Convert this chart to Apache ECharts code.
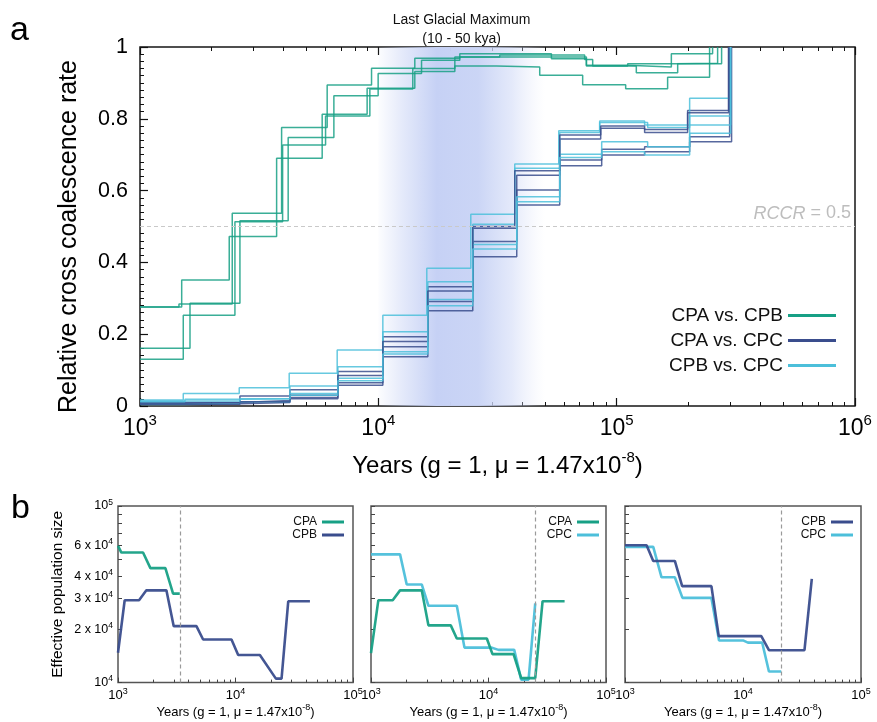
<!DOCTYPE html>
<html>
<head>
<meta charset="utf-8">
<script src="https://cdn.jsdelivr.net/npm/echarts@6/dist/echarts.min.js"></script>
<style>
  html, body { margin: 0; padding: 0; background: #fff; }
  #chart { width: 877px; height: 722px; }
</style>
</head>
<body>
<div id="chart"></div>
<script>
// ---------- Panel a: relative cross coalescence rate (years, value) ----------
const rccrCpaCpb1 = [[1000,0.276],[1496,0.351],[2368,0.472],[3743,0.690],[5813,0.813],[8975,0.885],[14224,0.932],[20940,0.947],[31300,0.944],[47550,0.921],[72000,0.895],[109100,0.884],[163600,0.916],[245400,1]];
const rccrCpaCpb2 = [[1000,0.276],[1457,0.284],[2438,0.537],[3928,0.776],[6100,0.894],[9365,0.941],[14224,0.969],[21970,0.981],[53230,0.967],[74640,0.949],[111200,0.944],[169600,0.981],[252600,1]];
const rccrCpaCpb3 = [[1000,0.130],[1519,0.253],[2502,0.513],[3966,0.727],[6006,0.808],[9213,0.883],[13950,0.940],[20940,0.972],[32310,0.978],[73410,0.965],[79320,0.947],[111200,0.953],[175100,0.955],[265200,1]];
const rccrCpaCpb4 = [[1000,0.161],[1621,0.286],[2626,0.516],[4185,0.748],[6508,0.864],[9982,0.926],[15180,0.963],[21970,0.972],[49900,0.972],[74640,0.947],[120900,0.928],[180300,0.953],[275600,1]];

const rccrCpaCpc1 = [[1000,0.008],[1519,0.010],[2626,0.028],[4256,0.045],[6765,0.096],[10445,0.193],[16130,0.332],[24900,0.495],[38080,0.643],[57680,0.744],[85700,0.774],[131000,0.762],[198500,0.823],[294900,1]];
const rccrCpaCpc2 = [[1000,0.010],[2626,0.015],[4256,0.024],[6765,0.065],[10445,0.165],[16130,0.291],[24900,0.458],[38080,0.602],[57680,0.685],[86530,0.715],[131000,0.722],[202400,0.750],[297800,1]];
const rccrCpaCpc3 = [[1000,0.006],[2626,0.010],[4256,0.020],[6765,0.058],[10445,0.137],[16130,0.265],[24900,0.416],[38080,0.560],[57680,0.669],[86530,0.699],[131000,0.708],[202400,0.736],[303500,1]];
const rccrCpaCpc4 = [[1000,0.005],[2626,0.012],[4256,0.030],[6765,0.085],[10445,0.180],[16130,0.320],[24900,0.500],[37350,0.655],[57680,0.755],[85700,0.780],[131000,0.770],[198500,0.817],[294900,1]];

const rccrCpbCpc1 = [[1000,0.017],[1519,0.035],[2608,0.051],[4227,0.091],[6720,0.156],[10445,0.253],[15970,0.384],[24430,0.534],[37350,0.674],[57130,0.767],[84870,0.794],[131000,0.783],[202400,0.857],[297800,1]];
const rccrCpbCpc2 = [[1000,0.012],[1544,0.019],[2626,0.020],[4256,0.056],[6765,0.109],[10445,0.207],[16130,0.346],[24900,0.506],[37350,0.662],[57680,0.762],[84870,0.790],[134900,0.776],[202400,0.808],[300600,1]];
const rccrCpbCpc3 = [[1000,0.004],[1544,0.006],[2626,0.012],[4256,0.035],[6765,0.077],[10445,0.151],[16130,0.297],[24900,0.450],[38080,0.583],[57680,0.701],[86530,0.736],[134900,0.722],[202400,0.783],[300600,1]];
const rccrCpbCpc4 = [[1000,0.014],[2626,0.020],[4256,0.030],[6765,0.070],[10445,0.145],[16130,0.279],[24900,0.437],[38080,0.569],[57680,0.692],[86530,0.708],[131000,0.699],[202400,0.760],[300600,1]];

const lgmRange = [10000, 50000];
const rccrThreshold = 0.5;

// ---------- Panel b: effective population size (years, Ne) ----------
const neCpaB1 = [[1000,59500],[1068,54500],[1633,54500],[1887,44500],[2531,44500],[2943,31900],[3354,31900]];
const neCpbB1 = [[1000,14760],[1140,29250],[1510,29250],[1744,33300],[2582,33300],[2980,20870],[4651,20870],[5301,17550],[9246,17550],[10537,14320],[16120,14320],[22070,10530],[24660,10530],[28110,28870],[43000,28870]];
const neCpaB2 = [[1000,14680],[1155,29290],[1530,29290],[1767,33290],[2703,33290],[3081,21090],[4775,21090],[5373,17780],[9679,17780],[10810,14490],[16330,14490],[18970,10600],[24990,10600],[28860,28910],[44430,28910]];
const neCpcB2 = [[1000,53210],[1767,53210],[2014,35940],[2703,35940],[3081,27240],[5373,27240],[6245,15780],[10540,15780],[12160,15320],[16550,15320],[18970,10390],[21930,10390],[24990,28060]];
const neCpbB3 = [[1000,59950],[1524,59950],[1735,48850],[2645,48850],[3051,35180],[5399,35180],[6228,18320],[14290,18320],[16590,15250],[33190,15250],[38290,38650]];
const neCpcB3 = [[1000,58680],[1735,58680],[2041,39470],[2645,39470],[3069,30170],[5399,30170],[6266,17330],[10000,17330],[11020,16830],[14550,16830],[16590,11560],[21090,11560]];
const splitTimes = [3357, 25100, 21100];

// ---------- Tick positions ----------
const minorYearTicksA = [2000,3000,4000,5000,6000,7000,8000,9000,20000,30000,40000,50000,60000,70000,80000,90000,200000,300000,400000,500000,600000,700000,800000,900000];
const majorYearTicksA = [1000, 10000, 100000, 1000000];
const minorYearTicksB = [2000,3000,4000,5000,6000,7000,8000,9000,20000,30000,40000,50000,60000,70000,80000,90000];
const neTicks = [10000,20000,30000,40000,50000,60000,70000,80000,90000,100000];
const neLabels = [10000,20000,30000,40000,60000,100000];

const FONT = 'Liberation Sans, Arial, Helvetica, sans-serif';
const GREEN = '#17a085';
const NAVY = '#3a4d8d';
const SKY = '#4cbfda';

const chart = echarts.init(document.getElementById('chart'), null, { renderer: 'canvas' });

function powLabel(v) {
  return '{b|10}{s|' + Math.round(Math.log10(v)) + '}';
}

function rccrLine(name, data, color) {
  return {
    type: 'line', name: name, data: data, step: 'end',
    xAxisIndex: 0, yAxisIndex: 0, symbol: 'none', silent: true,
    lineStyle: { color: color, width: 1.5, opacity: 0.85 },
    itemStyle: { color: color }, z: 3
  };
}

function neLine(name, data, color, xi, yi) {
  return {
    type: 'line', name: name, data: data, symbol: 'none', silent: true,
    xAxisIndex: xi, yAxisIndex: yi,
    lineStyle: { color: color, width: 2.6, opacity: 0.95 },
    itemStyle: { color: color }, z: 3
  };
}

// Plot boxes of the three small panels
const panelGrids = [
  { left: 118, right: 524, top: 506, bottom: 38 },
  { left: 371, right: 271, top: 506, bottom: 38 },
  { left: 625, right: 16, top: 506, bottom: 38 }
];

const xAxes = [
  // panel a: bottom major ticks with labels
  {
    type: 'log', gridIndex: 0, position: 'bottom', min: 1000, max: 1000000, logBase: 10,
    axisLine: { show: false },
    axisTick: { inside: true, length: 8, lineStyle: { color: '#111', width: 1.2 } },
    splitLine: { show: false },
    axisLabel: {
      margin: 7, formatter: powLabel,
      rich: {
        b: { fontSize: 23, lineHeight: 32, fontFamily: FONT, color: '#000' },
        s: { fontSize: 15, lineHeight: 15, verticalAlign: 'top', fontFamily: FONT, color: '#000' }
      }
    },
    name: 'Years (g = 1, \u03bc = 1.47x10{s|-8})',
    nameLocation: 'middle', nameGap: 44,
    nameTextStyle: {
      fontSize: 24, lineHeight: 32, fontFamily: FONT, color: '#000',
      rich: { s: { fontSize: 15, lineHeight: 15, verticalAlign: 'top', fontFamily: FONT, color: '#000' } }
    }
  },
  // panel a: bottom minor ticks
  {
    type: 'log', gridIndex: 0, position: 'bottom', min: 1000, max: 1000000,
    axisLine: { show: false }, splitLine: { show: false }, axisLabel: { show: false },
    axisTick: { inside: true, length: 4, customValues: minorYearTicksA, lineStyle: { color: '#111', width: 1 } }
  },
  // panel a: top major ticks
  {
    type: 'log', gridIndex: 0, position: 'top', min: 1000, max: 1000000,
    axisLine: { show: false }, splitLine: { show: false }, axisLabel: { show: false },
    axisTick: { inside: true, length: 8, customValues: majorYearTicksA, lineStyle: { color: '#111', width: 1.2 } }
  },
  // panel a: top minor ticks
  {
    type: 'log', gridIndex: 0, position: 'top', min: 1000, max: 1000000,
    axisLine: { show: false }, splitLine: { show: false }, axisLabel: { show: false },
    axisTick: { inside: true, length: 4, customValues: minorYearTicksA, lineStyle: { color: '#111', width: 1 } }
  }
];

const yAxes = [
  {
    type: 'value', gridIndex: 0, min: 0, max: 1, interval: 0.2, position: 'left',
    axisLine: { show: false }, splitLine: { show: false },
    axisTick: { inside: true, length: 8, lineStyle: { color: '#111', width: 1.2 } },
    minorTick: { show: true, splitNumber: 10, length: 4, lineStyle: { color: '#111', width: 1 } },
    axisLabel: { margin: 12, fontSize: 21.5, fontFamily: FONT, color: '#000' },
    name: 'Relative cross coalescence rate', nameLocation: 'middle', nameGap: 58, nameRotate: 90,
    nameTextStyle: { fontSize: 25, fontFamily: FONT, color: '#000', padding: [0, 20, 0, 0] }
  }
];

panelGrids.forEach(function (g, i) {
  const gi = i + 1;
  xAxes.push({
    type: 'log', gridIndex: gi, position: 'bottom', min: 1000, max: 100000,
    axisLine: { show: false }, splitLine: { show: false },
    axisTick: { inside: true, length: 5, lineStyle: { color: '#444', width: 1 } },
    axisLabel: {
      margin: 4, formatter: powLabel,
      rich: {
        b: { fontSize: 13, lineHeight: 18, fontFamily: FONT, color: '#000' },
        s: { fontSize: 9, lineHeight: 9, verticalAlign: 'top', fontFamily: FONT, color: '#000' }
      }
    },
    name: 'Years (g = 1, \u03bc = 1.47x10{s|-8})',
    nameLocation: 'middle', nameGap: 20,
    nameTextStyle: {
      fontSize: 13, lineHeight: 18, fontFamily: FONT, color: '#000',
      rich: { s: { fontSize: 9, lineHeight: 9, verticalAlign: 'top', fontFamily: FONT, color: '#000' } }
    }
  });
  xAxes.push({
    type: 'log', gridIndex: gi, position: 'bottom', min: 1000, max: 100000,
    axisLine: { show: false }, splitLine: { show: false }, axisLabel: { show: false },
    axisTick: { inside: true, length: 3, customValues: minorYearTicksB, lineStyle: { color: '#444', width: 1 } }
  });
  const y = {
    type: 'log', gridIndex: gi, position: 'left', min: 10000, max: 100000,
    axisLine: { show: false }, splitLine: { show: false },
    axisTick: { inside: true, length: 4, customValues: neTicks, lineStyle: { color: '#444', width: 1 } },
    axisLabel: { show: false }
  };
  if (i === 0) {
    y.axisLabel = {
      show: true, margin: 5, customValues: neLabels,
      formatter: function (v) {
        const e = Math.floor(Math.log10(v) + 1e-9);
        const m = Math.round(v / Math.pow(10, e));
        return m === 1 ? '{b|10}{s|' + e + '}' : '{b|' + m + ' x 10}{s|' + e + '}';
      },
      rich: {
        b: { fontSize: 12.5, lineHeight: 16, fontFamily: FONT, color: '#000' },
        s: { fontSize: 8.5, lineHeight: 8.5, verticalAlign: 'top', fontFamily: FONT, color: '#000' }
      }
    };
    y.name = 'Effective population size';
    y.nameLocation = 'middle';
    y.nameGap = 52;
    y.nameRotate = 90;
    y.nameTextStyle = { fontSize: 15.5, fontFamily: FONT, color: '#000' };
  }
  yAxes.push(y);
});

const lgmGradient = new echarts.graphic.LinearGradient(0, 0, 1, 0, [
  { offset: 0, color: 'rgba(200,211,245,0.05)' },
  { offset: 0.15, color: 'rgba(200,211,245,0.5)' },
  { offset: 0.35, color: 'rgba(198,209,245,1)' },
  { offset: 0.6, color: 'rgba(200,211,245,0.95)' },
  { offset: 0.8, color: 'rgba(205,215,246,0.55)' },
  { offset: 0.95, color: 'rgba(215,222,248,0.12)' },
  { offset: 1, color: 'rgba(220,226,249,0)' }
]);

const series = [
  {
    type: 'line', name: 'LGM', data: [], xAxisIndex: 0, yAxisIndex: 0, z: 1, silent: true,
    markArea: {
      silent: true,
      itemStyle: { color: lgmGradient },
      label: {
        show: true, position: 'top', distance: -2,
        formatter: 'Last Glacial Maximum\n(10 - 50 kya)',
        fontSize: 14, lineHeight: 19, fontFamily: FONT, color: '#111'
      },
      data: [[{ xAxis: lgmRange[0] }, { xAxis: lgmRange[1] }]]
    },
    markLine: {
      silent: true, symbol: 'none',
      lineStyle: { color: '#c9c9c9', type: [4, 3], width: 1 },
      label: {
        position: 'insideEndTop', distance: 4,
        formatter: '{i|RCCR} = 0.5',
        color: '#bdbdbd', fontSize: 18, fontFamily: FONT,
        rich: { i: { fontStyle: 'italic', color: '#bdbdbd', fontSize: 18, fontFamily: FONT } }
      },
      data: [{ yAxis: rccrThreshold }]
    }
  },
  rccrLine('CPA vs. CPB', rccrCpaCpb1, GREEN),
  rccrLine('CPA vs. CPB', rccrCpaCpb2, GREEN),
  rccrLine('CPA vs. CPB', rccrCpaCpb3, GREEN),
  rccrLine('CPA vs. CPB', rccrCpaCpb4, GREEN),
  rccrLine('CPA vs. CPC', rccrCpaCpc1, NAVY),
  rccrLine('CPB vs. CPC', rccrCpbCpc1, SKY),
  rccrLine('CPA vs. CPC', rccrCpaCpc2, NAVY),
  rccrLine('CPB vs. CPC', rccrCpbCpc2, SKY),
  rccrLine('CPA vs. CPC', rccrCpaCpc3, NAVY),
  rccrLine('CPB vs. CPC', rccrCpbCpc3, SKY),
  rccrLine('CPA vs. CPC', rccrCpaCpc4, NAVY),
  rccrLine('CPB vs. CPC', rccrCpbCpc4, SKY)
];

// Split-time guide lines and Ne curves for the three small panels
const panelPairs = [
  [['CPA', neCpaB1, GREEN], ['CPB', neCpbB1, NAVY]],
  [['CPA', neCpaB2, GREEN], ['CPC', neCpcB2, SKY]],
  [['CPB', neCpbB3, NAVY], ['CPC', neCpcB3, SKY]]
];
panelPairs.forEach(function (pair, i) {
  const xi = 4 + i * 2;
  const yi = 1 + i;
  series.push({
    type: 'line', data: [], xAxisIndex: xi, yAxisIndex: yi, z: 1, silent: true,
    markLine: {
      silent: true, symbol: 'none', label: { show: false },
      lineStyle: { color: '#9a9a9a', type: [4, 3], width: 1.2 },
      data: [{ xAxis: splitTimes[i] }]
    }
  });
  series.push(neLine(pair[1][0], pair[1][1], pair[1][2], xi, yi));
  series.push(neLine(pair[0][0], pair[0][1], pair[0][2], xi, yi));
});

const legendBase = {
  orient: 'vertical', align: 'right', icon: 'rect', selectedMode: false
};

const option = {
  animation: false,
  backgroundColor: '#ffffff',
  grid: [
    { left: 140, right: 22, top: 47, bottom: 316, show: true, borderColor: '#161616', borderWidth: 1.5, backgroundColor: 'transparent' },
    Object.assign({ show: true, borderColor: '#555', borderWidth: 1.5 }, panelGrids[0]),
    Object.assign({ show: true, borderColor: '#555', borderWidth: 1.5 }, panelGrids[1]),
    Object.assign({ show: true, borderColor: '#555', borderWidth: 1.5 }, panelGrids[2])
  ],
  xAxis: xAxes,
  yAxis: yAxes,
  legend: [
    Object.assign({}, legendBase, {
      right: 36, top: 301, itemWidth: 48, itemHeight: 3, itemGap: 6,
      textStyle: { fontSize: 19, fontFamily: FONT, color: '#111' },
      data: ['CPA vs. CPB', 'CPA vs. CPC', 'CPB vs. CPC']
    }),
    Object.assign({}, legendBase, {
      right: 528, top: 511, itemWidth: 22, itemHeight: 3, itemGap: 1,
      textStyle: { fontSize: 12, fontFamily: FONT, color: '#111' },
      data: ['CPA', 'CPB']
    }),
    Object.assign({}, legendBase, {
      right: 273, top: 511, itemWidth: 22, itemHeight: 3, itemGap: 1,
      textStyle: { fontSize: 12, fontFamily: FONT, color: '#111' },
      data: ['CPA', 'CPC']
    }),
    Object.assign({}, legendBase, {
      right: 19, top: 511, itemWidth: 22, itemHeight: 3, itemGap: 1,
      textStyle: { fontSize: 12, fontFamily: FONT, color: '#111' },
      data: ['CPB', 'CPC']
    })
  ],
  graphic: [
    { type: 'text', left: 10, top: 14, style: { text: 'a', font: '34px ' + FONT, fill: '#000' } },
    { type: 'text', left: 11, top: 492, style: { text: 'b', font: '34px ' + FONT, fill: '#000' } }
  ],
  series: series
};

chart.setOption(option);
</script>
</body>
</html>
